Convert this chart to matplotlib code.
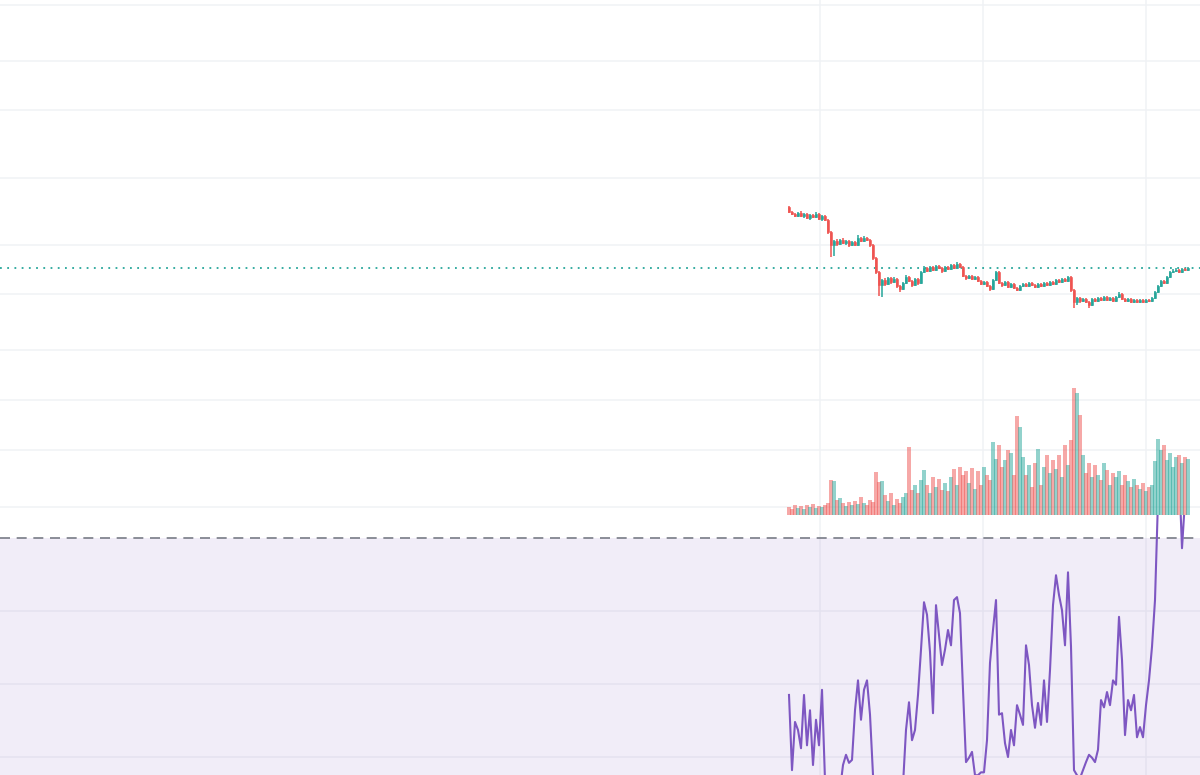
import matplotlib
matplotlib.use("Agg")
import matplotlib.pyplot as plt
import numpy as np

# ---------------- data ----------------
opens = [
    79.3, 78.8, 78.6, 78.4, 78.7, 78.4, 78.6, 78.2, 78.5, 78.3, 78.6, 78.1, 78.4,
    78.0, 76.8, 75.5, 75.9, 75.6, 76.0, 75.7, 75.9, 75.5, 75.8, 75.5, 76.2, 75.9, 76.2, 76.0,
    75.5, 74.2, 72.8, 71.5, 72.0, 71.6, 72.2, 71.8, 72.1, 71.4,
    71.1, 71.7, 72.3, 71.9, 71.5, 72.1, 71.7, 72.8, 73.2, 72.9, 73.3, 73.0, 73.4, 73.2, 72.9, 73.3, 73.1, 73.5, 73.2, 73.6,
    73.3, 72.4, 72.2, 72.4, 72.1, 72.3, 71.9, 71.6, 71.8, 71.4,
    71.1, 72.0, 72.8, 71.7, 71.5, 71.8, 71.3, 71.6, 71.2, 71.0, 71.4, 71.6, 71.4, 71.7, 71.5, 71.3, 71.6, 71.4, 71.7, 71.5, 71.8, 71.6, 72.0, 71.8, 72.1, 71.9,
    72.3, 71.0, 69.8, 70.2, 69.9, 70.1, 69.8, 69.5, 70.1, 69.9, 70.2, 70.0, 70.3, 70.0, 70.2, 69.9, 70.3, 70.6, 70.1, 69.9, 70.1, 69.8, 70.0, 69.8, 70.0, 69.8, 70.0, 69.9,
    70.2, 70.8, 71.4, 71.9, 71.7, 72.3, 72.8, 72.9, 73.0, 72.8, 73.1, 73.0,
]
highs = [
    79.4, 78.9, 78.7, 78.8, 78.9, 78.7, 78.7, 78.6, 78.6, 78.8, 78.7, 78.5, 78.5,
    78.1, 76.9, 76.0, 76.1, 76.1, 76.2, 76.0, 76.0, 75.9, 75.9, 76.5, 76.3, 76.4, 76.3, 76.1,
    75.6, 74.3, 72.9, 72.1, 72.2, 72.3, 72.3, 72.3, 72.2, 71.5,
    71.8, 72.5, 72.4, 72.0, 72.2, 72.2, 72.9, 73.4, 73.3, 73.4, 73.4, 73.5, 73.5, 73.3, 73.4, 73.4, 73.6, 73.6, 73.8, 73.7,
    73.4, 72.5, 72.5, 72.5, 72.4, 72.4, 72.0, 71.9, 71.9, 71.5,
    72.1, 72.9, 72.9, 71.8, 71.9, 71.9, 71.7, 71.7, 71.3, 71.5, 71.7, 71.7, 71.8, 71.8, 71.6, 71.7, 71.7, 71.8, 71.8, 71.9, 71.9, 72.1, 72.1, 72.2, 72.2, 72.4,
    72.4, 71.1, 70.3, 70.3, 70.2, 70.2, 69.9, 70.2, 70.2, 70.3, 70.3, 70.4, 70.4, 70.3, 70.3, 70.4, 70.8, 70.7, 70.2, 70.2, 70.2, 70.1, 70.1, 70.1, 70.1, 70.1, 70.1, 70.3,
    70.9, 71.5, 72.0, 72.0, 72.4, 72.9, 73.1, 73.2, 73.1, 73.2, 73.2, 73.3,
]
lows = [
    78.7, 78.5, 78.3, 78.3, 78.3, 78.2, 78.1, 78.0, 78.2, 78.2, 78.0, 77.9, 77.9,
    76.6, 74.3, 74.4, 75.4, 75.5, 75.6, 75.5, 75.3, 75.4, 75.4, 75.4, 75.8, 75.8, 75.9, 75.3,
    74.0, 72.6, 70.4, 70.3, 71.4, 71.5, 71.6, 71.7, 71.2, 70.8,
    71.0, 71.6, 71.8, 71.3, 71.4, 71.5, 71.6, 72.7, 72.8, 72.8, 72.9, 72.9, 73.1, 72.7, 72.8, 73.0, 73.0, 73.1, 73.1, 73.2,
    72.3, 72.0, 72.1, 72.0, 72.0, 71.8, 71.5, 71.5, 71.3, 70.9,
    71.0, 71.9, 71.6, 71.3, 71.4, 71.2, 71.2, 71.1, 70.9, 70.9, 71.3, 71.3, 71.3, 71.4, 71.2, 71.2, 71.3, 71.3, 71.4, 71.4, 71.5, 71.5, 71.7, 71.7, 71.8, 71.8,
    70.8, 69.2, 69.5, 69.7, 69.8, 69.7, 69.2, 69.4, 69.8, 69.8, 69.9, 69.9, 69.9, 69.9, 69.8, 69.8, 70.2, 70.0, 69.8, 69.8, 69.7, 69.7, 69.7, 69.7, 69.7, 69.7, 69.8, 69.8,
    70.1, 70.7, 71.3, 71.6, 71.6, 72.2, 72.7, 72.8, 72.7, 72.7, 72.9, 72.9,
]
closes = [
    78.8, 78.6, 78.4, 78.7, 78.4, 78.6, 78.2, 78.5, 78.3, 78.6, 78.1, 78.4, 78.0,
    76.8, 75.5, 75.9, 75.6, 76.0, 75.7, 75.9, 75.5, 75.8, 75.5, 76.2, 75.9, 76.2, 76.0, 75.5,
    74.2, 72.8, 71.5, 72.0, 71.6, 72.2, 71.8, 72.1, 71.4, 71.1,
    71.7, 72.3, 71.9, 71.5, 72.1, 71.7, 72.8, 73.2, 72.9, 73.3, 73.0, 73.4, 73.2, 72.9, 73.3, 73.1, 73.5, 73.2, 73.6, 73.3,
    72.4, 72.2, 72.4, 72.1, 72.3, 71.9, 71.6, 71.8, 71.4, 71.1,
    72.0, 72.8, 71.7, 71.5, 71.8, 71.3, 71.6, 71.2, 71.0, 71.4, 71.6, 71.4, 71.7, 71.5, 71.3, 71.6, 71.4, 71.7, 71.5, 71.8, 71.6, 72.0, 71.8, 72.1, 71.9, 72.3,
    71.0, 69.8, 70.2, 69.9, 70.1, 69.8, 69.5, 70.1, 69.9, 70.2, 70.0, 70.3, 70.0, 70.2, 69.9, 70.3, 70.6, 70.1, 69.9, 70.1, 69.8, 70.0, 69.8, 70.0, 69.8, 70.0, 69.9, 70.2,
    70.8, 71.4, 71.9, 71.7, 72.3, 72.8, 72.9, 73.0, 72.8, 73.1, 73.0, 73.2,
]
volumes = [
    800, 600, 1000, 700, 900, 600, 1000, 800, 1100, 700, 900, 800, 1000,
    1200, 3500, 3400, 1500,
    1700, 1200, 900, 1300, 1000, 1400, 1100, 1800, 1200, 1000, 1500, 1300,
    4300,
    3300, 3400, 2000, 1400, 2200, 1000, 1600, 1200, 1800, 2200,
    6800, 2500, 3000, 2200, 3500, 4500, 3000, 2200, 3800, 2800,
    3600, 2500, 3200, 2400, 3800, 4600, 3000, 4800, 4000, 4400,
    3200, 4700, 2600, 4400, 3000, 4800, 4000, 3500, 7300, 5600,
    7000, 4800, 5500, 6500, 6200, 4000, 9900, 8800, 5800, 4000,
    5000, 2800, 5200, 6600, 3000, 4800, 6000, 4200, 5500, 4600,
    6000, 3800, 7000, 5000, 7500, 12700, 12200, 10000, 6000, 4200,
    5200, 3800, 5000, 4000, 3500, 5200, 4500, 3000, 4200, 3800,
    4400, 3000, 4000, 3400, 2800, 3600, 3000, 2600, 3200, 2400,
    2800, 3000, 5400, 7600, 6500, 7000, 5500, 6200, 4800, 5800,
    6000, 5200, 5800, 5600,
]
rsi = [
    48.5, 38.2, 44.8, 43.7, 41.2, 48.5, 41.6, 46.4, 38.9, 45.1,
    41.6, 49.2, 36.8, 34.1, 31.4, 30.0, 32.7, 35.5, 38.9, 40.3,
    39.2, 39.6, 46.4, 50.5, 45.1, 49.2, 50.5, 45.8, 37.5, 31.4,
    27.3, 28.6, 30.0, 31.4, 32.1, 32.7, 34.1, 34.8, 36.2, 43.7,
    47.5, 42.3, 43.7, 48.5, 54.7, 61.2, 59.5, 54.4, 46.0, 60.8,
    56.7, 52.6, 54.7, 57.4, 55.3, 61.5, 61.9, 59.7, 49.2, 39.3,
    39.9, 40.7, 37.5, 37.5, 37.9, 37.9, 42.3, 52.9, 57.4, 61.5,
    45.8, 46.0, 41.9, 40.0, 43.7, 41.6, 47.1, 45.8, 44.4, 55.3,
    52.6, 47.1, 44.0, 47.4, 44.4, 50.5, 44.8, 51.9, 60.8, 64.9,
    62.2, 60.1, 55.3, 65.3, 55.1, 38.2, 37.5, 37.1, 38.2, 39.3,
    40.3, 39.9, 39.3, 41.0, 47.8, 46.8, 48.9, 47.1, 50.5, 49.9,
    59.2, 53.3, 43.0, 47.8, 46.4, 48.5, 42.7, 44.1, 42.7, 47.1,
    50.5, 55.1, 61.5, 75.2, 80.7, 83.4, 82.1, 84.8, 83.4, 82.1,
    79.3, 68.6, 75.2, 76.6,
]
rsi_upper, rsi_lower = 70, 30

n = len(closes)
assert all(len(a) == n for a in (opens, highs, lows, volumes, rsi))

# ---------------- style ----------------
UP = '#26a69a'
DOWN = '#ef5350'
RSI_C = '#7e57c2'
GRID = '#f0f2f5'

W, H = 1200, 775
fig = plt.figure(figsize=(W / 100, H / 100), dpi=100)
fig.patch.set_facecolor('white')

# background grid (pane layout in pixel coordinates)
bg = fig.add_axes([0, 0, 1, 1])
bg.set_xlim(0, W)
bg.set_ylim(H, 0)
bg.set_xticks([820, 983, 1146])
bg.set_yticks([5, 61, 110, 178, 245, 294, 350, 400, 450, 507, 611, 684, 757])
bg.grid(True, color=GRID, lw=1.1)
bg.tick_params(length=0, labelleft=False, labelbottom=False)
for s in bg.spines.values():
    s.set_visible(False)
bg.set_facecolor('white')

x = np.arange(n)
XLIM = (-263, 137)
o = np.array(opens)
c = np.array(closes)
up = c >= o
cols = [UP if u else DOWN for u in up]

# volume overlay
vax = fig.add_axes([0, 0, 1, 1])
vax.axis('off')
vax.set_xlim(*XLIM)
vax.set_ylim(-26000, 51500)
vax.bar(x, volumes, width=1.15, color=cols, alpha=0.5, linewidth=0)

# price candles
pax = fig.add_axes([0, 0, 1, 1])
pax.axis('off')
pax.set_xlim(*XLIM)
pax.set_ylim(22.5, 100)
pax.axhline(closes[-1], color=UP, ls=(0, (1, 3)), lw=1.3, zorder=1)
pax.vlines(x, lows, highs, colors=cols, lw=1.1, zorder=2)
pax.bar(x, c - o, bottom=o, width=0.85, color=cols, linewidth=0.4,
        edgecolor=cols, zorder=3)

# RSI pane
rax = fig.add_axes([0, 0, 1, 260 / H])
rax.axis('off')
rax.set_xlim(*XLIM)
rax.set_ylim(37.534, 73.151)
rax.axhspan(rsi_lower, rsi_upper, color=RSI_C, alpha=0.1, lw=0)
rax.axhline(rsi_upper, color='#787b86', ls=(0, (6, 4)), lw=1.2)
rax.plot(x, rsi, color=RSI_C, lw=1.5, zorder=3)

fig.savefig('out.png', dpi=100)
